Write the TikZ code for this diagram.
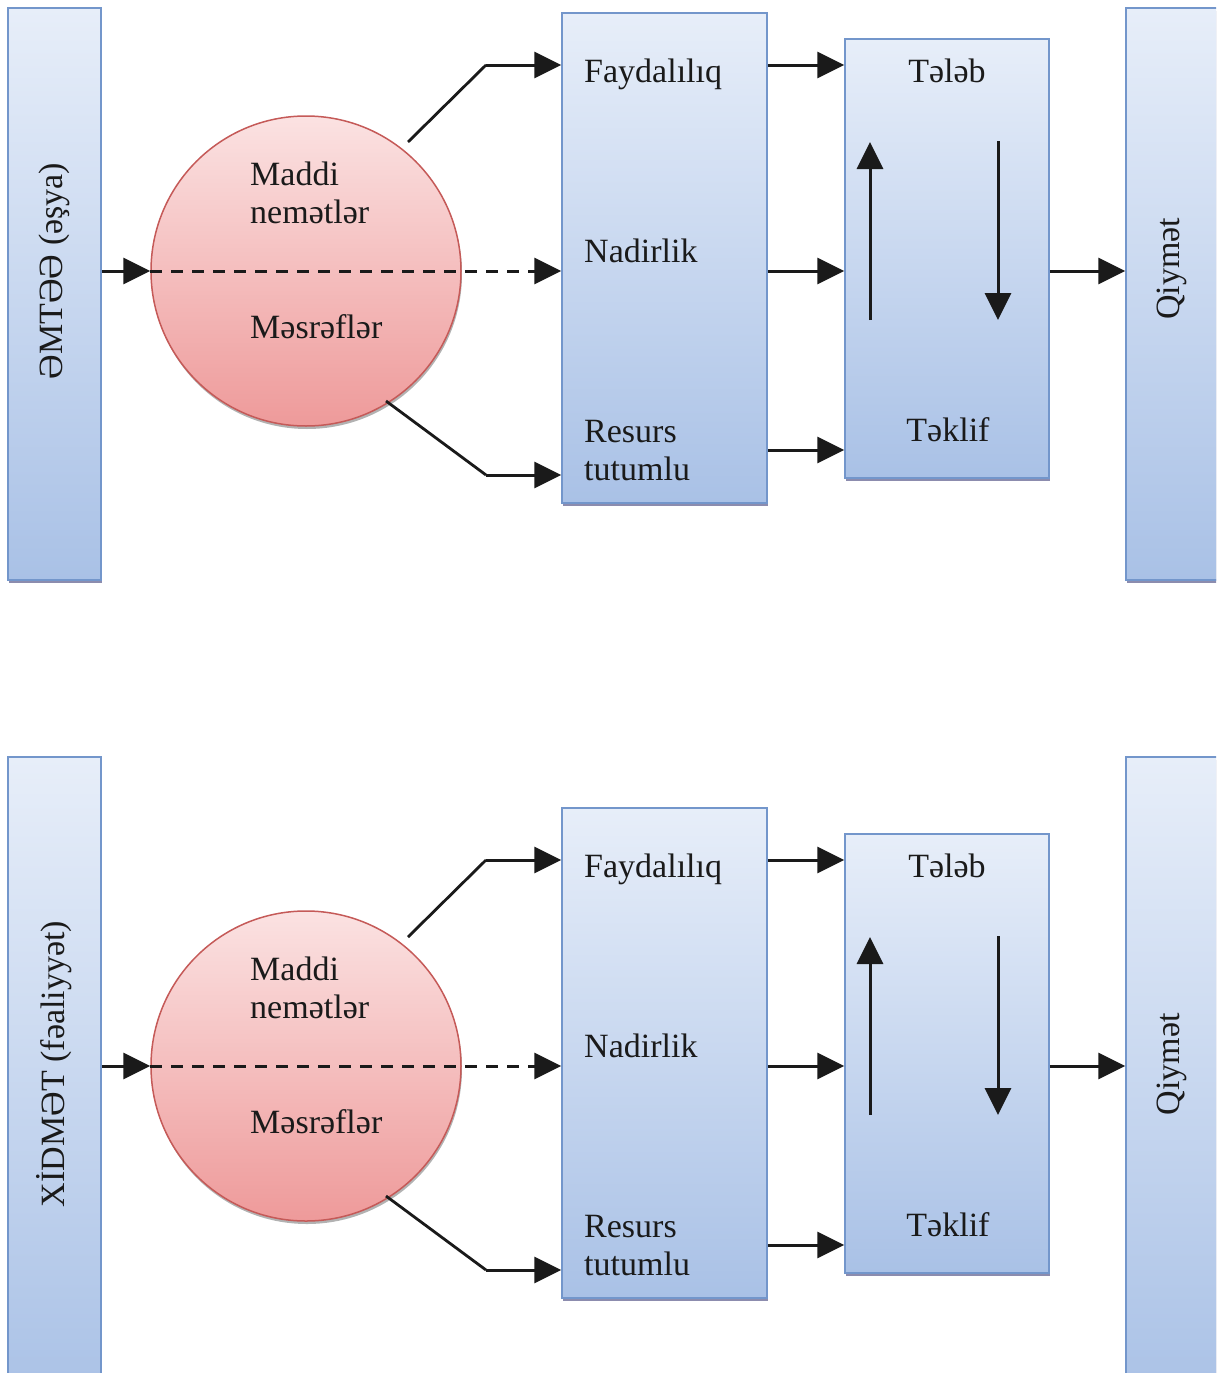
\documentclass[tikz,border=0pt]{standalone}
\usepackage{fontspec}
\setmainfont{Liberation Serif}
\usetikzlibrary{arrows.meta,shadows,calc}
\definecolor{bluetop}{HTML}{E7EEF9}
\definecolor{bluebot}{HTML}{A9C1E6}
\definecolor{blueline}{HTML}{7396CB}
\definecolor{pinktop}{HTML}{FBE2E2}
\definecolor{pinkbot}{HTML}{EE9A9A}
\definecolor{pinkline}{HTML}{C55A58}
\definecolor{ink}{HTML}{1A1A1A}
\begin{document}
\begin{tikzpicture}[x=1pt,y=-1pt,
  font=\fontsize{34}{38}\selectfont,
  bluebox/.style={draw=blueline, line width=1.5pt, top color=bluetop, bottom color=bluebot, inner sep=0pt,
    drop shadow={shadow xshift=1pt, shadow yshift=-3pt, fill=blue!30!black, opacity=.45}},
  pinkball/.style={circle, draw=pinkline, line width=1.5pt, top color=pinktop, bottom color=pinkbot, inner sep=0pt,
    minimum size=310pt, drop shadow={shadow xshift=1pt, shadow yshift=-3pt, fill=black, opacity=.3}},
  lbl/.style={inner sep=0pt, text=ink},
  arr/.style={draw=ink, line width=3pt, -{Triangle[length=27pt,width=26pt]}},
  darr/.style={arr, line width=3pt, dash pattern=on 12pt off 9pt},
  plain/.style={draw=ink, line width=2.8pt}
]
\useasboundingbox (0,0) rectangle (1216,1373);
\clip (0,0) rectangle (1216,1373);
\fill[white] (0,0) rectangle (1216,1373);

% side bars
\node[bluebox, minimum width=93pt, minimum height=572pt] (lbara) at (54.5,294) {};
\node[bluebox, minimum width=93pt, minimum height=650pt] (lbarb) at (54.5,1082) {};
\node[bluebox, minimum width=104pt, minimum height=572pt] (rbara) at (1178,294) {};
\node[bluebox, minimum width=104pt, minimum height=650pt] (rbarb) at (1178,1082) {};
\node[lbl, rotate=90] (ta) at (54,271) {ƏMTƏƏ (əşya)};
\node[lbl, rotate=90] (tb) at (54,1064) {XİDMƏT (fəaliyyət)};
\node[lbl, rotate=90] (qa) at (1172,269) {Qiymət};
\node[lbl, rotate=90] (qb) at (1172,1064) {Qiymət};

\foreach \dy/\p in {0/a,795/b}{
  \node[bluebox, minimum width=205pt, minimum height=490pt] (mid\p) at (664.5,258+\dy) {};
  \node[bluebox, minimum width=204pt, minimum height=439pt] (rb\p) at (947,258.5+\dy) {};
  \node[pinkball] (circ\p) at (306,271+\dy) {};

  \node[lbl, anchor=base west] (fay\p) at (584,82+\dy) {Faydalılıq};
  \node[lbl, anchor=base west] (nad\p) at (584,262+\dy) {Nadirlik};
  \node[lbl, anchor=base west] (res\p) at (584,442+\dy) {Resurs};
  \node[lbl, anchor=base west] (tut\p) at (584,480+\dy) {tutumlu};
  \node[lbl, anchor=base] (tel\p) at (947,82+\dy) {Tələb};
  \node[lbl, anchor=base] (tek\p) at (948,441+\dy) {Təklif};
  \node[lbl, anchor=base west] (mad\p) at (250,185+\dy) {Maddi};
  \node[lbl, anchor=base west] (nem\p) at (250,223+\dy) {nemətlər};
  \node[lbl, anchor=base west] (mas\p) at (250,338+\dy) {Məsrəflər};

  \coordinate (k1\p) at (486,65+\dy);
  \coordinate (k2\p) at (486,475+\dy);
  \coordinate (s1\p) at (408,142+\dy);
  \coordinate (s2\p) at (386,401+\dy);
  \coordinate (y3\p) at (0,450+\dy);
  \coordinate (u1\p) at (870,320+\dy);
  \coordinate (u2\p) at (870,142+\dy);
  \coordinate (d1\p) at (998,141+\dy);
  \coordinate (d2\p) at (998,320+\dy);

  \draw[arr] (lbar\p.east |- circ\p.west) -- (circ\p.west);
  \draw[darr] (circ\p.west) -- (mid\p.west |- circ\p.west);
  \draw[plain] (s1\p) -- (k1\p);
  \draw[arr] (k1\p) -- (k1\p -| mid\p.west);
  \draw[plain] (s2\p) -- (k2\p);
  \draw[arr] (k2\p) -- (k2\p -| mid\p.west);

  \draw[arr] (mid\p.east |- k1\p) -- (rb\p.west |- k1\p);
  \draw[arr] (mid\p.east |- circ\p) -- (rb\p.west |- circ\p);
  \draw[arr] (mid\p.east |- y3\p) -- (rb\p.west |- y3\p);
  \draw[arr] (rb\p.east |- circ\p) -- (rbar\p.west |- circ\p);

  \draw[arr] (u1\p) -- (u2\p);
  \draw[arr] (d1\p) -- (d2\p);
}
\end{tikzpicture}
\end{document}
